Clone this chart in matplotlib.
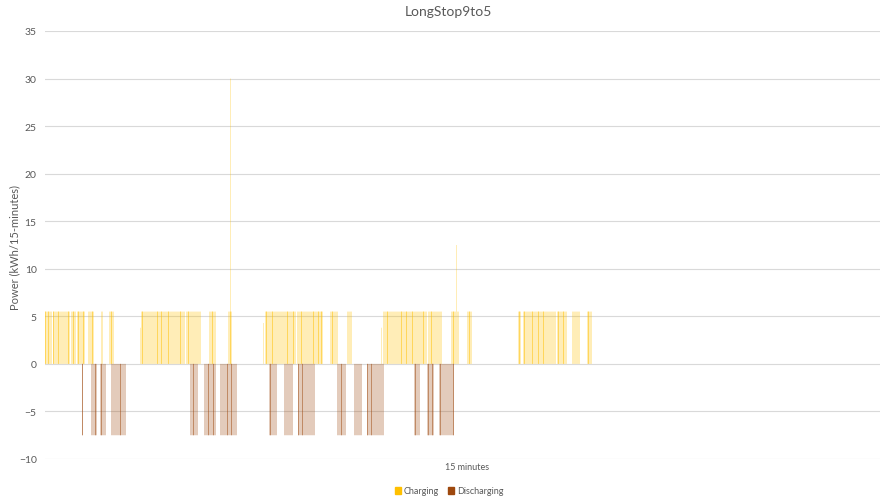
import numpy as np
import matplotlib
matplotlib.use("Agg")
import matplotlib.pyplot as plt
from matplotlib.patches import Patch

plt.rcParams['font.family'] = ['Lato', 'DejaVu Sans']

# each group = 3 consecutive 15-minute intervals
N_GROUPS = 835
PER_GROUP = 3
CHARGE_KW = 5.5
DISCHARGE_KW = -7.5

# groups where one interval of the three is charging
charging_runs = [(0, 6), (8, 24), (26, 30), (32, 39), (43, 48), (56, 57), (64, 68),
                 (96, 139), (141, 155), (164, 170), (183, 186),
                 (220, 250), (252, 277), (285, 292), (302, 306),
                 (338, 381), (383, 396), (406, 413), (422, 426),
                 (473, 475), (478, 510), (512, 521), (527, 534), (542, 546)]
# groups where every interval is charging
charging_busy = [0, 3, 8, 13, 23, 28, 33, 38, 47, 66, 97, 112, 116, 123, 135, 143,
                 167, 185, 221, 227, 242, 248, 256, 268, 273, 276, 287, 342, 356,
                 361, 367, 378, 386, 408, 424, 474, 479, 487, 493, 498, 513, 518, 543]
# single intervals with a different charging power
charging_peaks = [(95, 3.8), (185, 30.0), (218, 4.3), (336, 3.8), (411, 12.5)]

discharging_runs = [(46, 51), (55, 60), (66, 80), (145, 152), (159, 170), (175, 191),
                    (224, 231), (239, 247), (253, 269), (292, 300), (309, 316),
                    (322, 338), (369, 374), (382, 388), (394, 408)]
discharging_busy = [37, 50, 56, 75, 148, 163, 168, 182, 186, 225, 253, 257, 296,
                    322, 326, 370, 383, 387, 395, 408]

charge = np.zeros(N_GROUPS * PER_GROUP)
discharge = np.zeros(N_GROUPS * PER_GROUP)
for a, b in charging_runs:
    for g in range(a, b + 1):
        charge[g * PER_GROUP + 1] = CHARGE_KW
for g in charging_busy:
    charge[g * PER_GROUP:(g + 1) * PER_GROUP] = CHARGE_KW
for g, v in charging_peaks:
    charge[g * PER_GROUP + 1] = v
for a, b in discharging_runs:
    for g in range(a, b + 1):
        discharge[g * PER_GROUP + 1] = DISCHARGE_KW
for g in discharging_busy:
    discharge[g * PER_GROUP:(g + 1) * PER_GROUP] = DISCHARGE_KW

x = np.arange(len(charge))

fig = plt.figure(figsize=(8.81, 5.02), dpi=100)
ax = fig.add_axes([45 / 881, 42 / 502, 835 / 881, 428 / 502])

m = charge != 0
ax.bar(x[m], charge[m], width=0.85, color='#FFC000', linewidth=0, snap=False)
m = discharge != 0
ax.bar(x[m], discharge[m], width=0.85, color='#9E480E', linewidth=0, snap=False)

ax.set_xlim(-0.5, len(x) - 0.5)
ax.set_ylim(-10, 35)
ax.set_yticks(range(-10, 36, 5))
ax.set_xticks([])
ax.set_axisbelow(True)
ax.grid(axis='y', color='#D9D9D9', linewidth=0.8)
for s in ax.spines.values():
    s.set_visible(False)
ax.tick_params(axis='y', length=0, labelsize=7.5, labelcolor='#595959', pad=6)

fig.text(448 / 881, 1 - 12 / 502, 'LongStop9to5', ha='center', va='center',
         fontsize=10, color='#595959')
fig.text(15 / 881, 1 - 247 / 502, 'Power (kWh/15-minutes)', rotation=90,
         ha='center', va='center', fontsize=8, color='#595959')
fig.text(467 / 881, 1 - 468 / 502, '15 minutes', ha='center', va='center',
         fontsize=6.5, color='#595959')

handles = [Patch(color='#FFC000', label='Charging'),
           Patch(color='#9E480E', label='Discharging')]
leg = fig.legend(handles=handles, loc='center', bbox_to_anchor=(449 / 881, 1 - 492 / 502),
                 ncol=2, frameon=False, fontsize=6.5, handlelength=0.7, handleheight=0.7,
                 columnspacing=1.0, handletextpad=0.3)
for t in leg.get_texts():
    t.set_color('#595959')

fig.savefig('out.png', dpi=100)
